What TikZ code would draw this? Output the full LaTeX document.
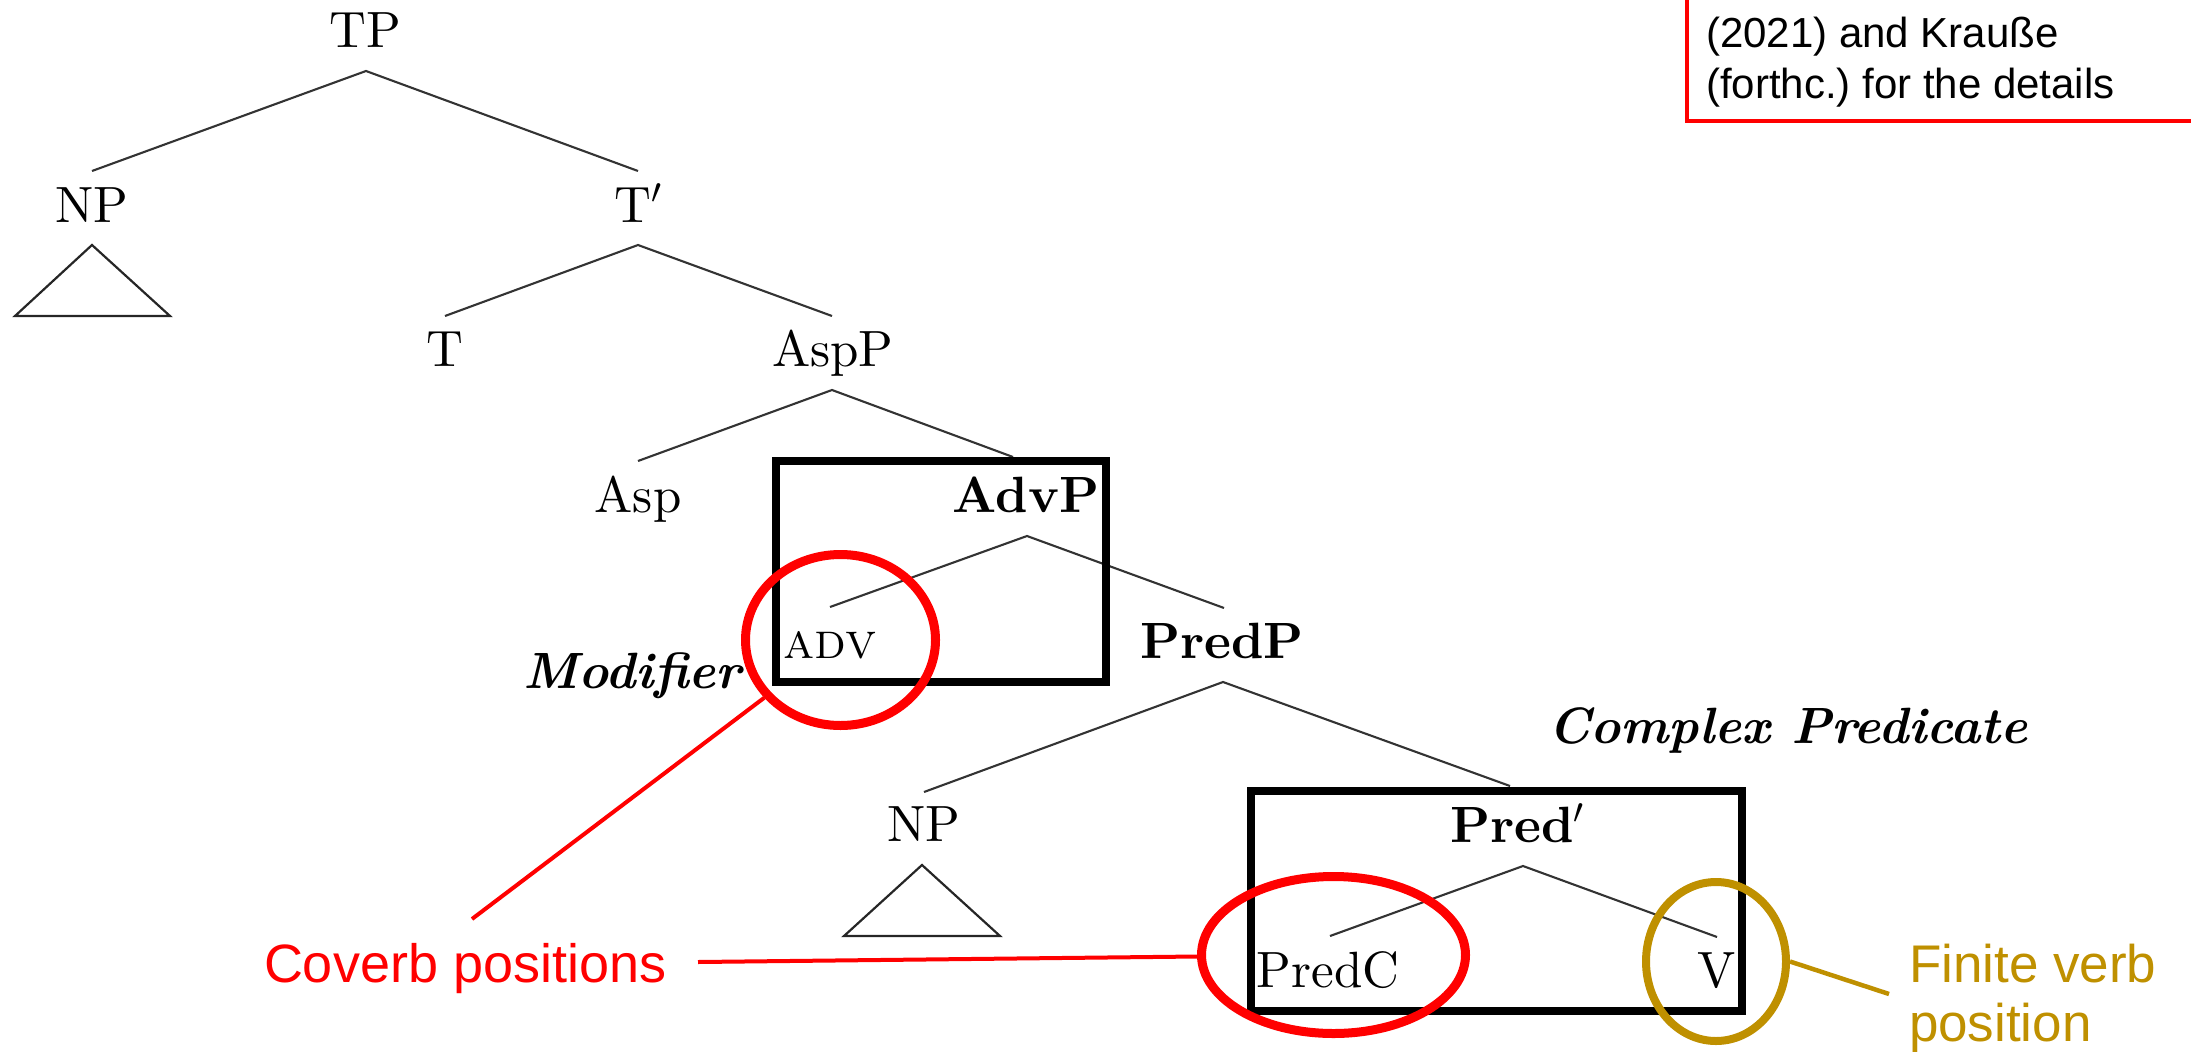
\RequirePackage{fix-cm}
\documentclass[tikz,border=0pt]{standalone}
\usepackage{fontspec}
\setmainfont{lmroman10}[Extension=.otf, UprightFont=*-regular, BoldFont=*-bold, ItalicFont=*-italic, BoldItalicFont=*-bolditalic, SmallCapsFont=lmromancaps10-regular]
\newfontfamily\arial{Liberation Sans}
\usetikzlibrary{shapes.geometric}
\definecolor{gold}{HTML}{BF9000}
\definecolor{annred}{HTML}{FF0000}
\frenchspacing
\begin{document}
\begin{tikzpicture}[x=1pt,y=-1pt,
  lbl/.style={inner sep=0pt, outer sep=0pt, anchor=base, font=\fontsize{51}{60}\selectfont},
  branch/.style={line width=2.1pt, draw=black!80},
  tri/.style={line width=2.2pt, draw=black!85, line join=miter},
  frame/.style={draw=black, line width=8.5pt, rectangle, inner sep=0pt},
  ring/.style={ellipse, draw=annred, line width=9pt, inner sep=0pt},
  goldring/.style={ellipse, draw=gold, line width=8pt, inner sep=0pt},
  redline/.style={draw=annred, line width=4pt},
  goldline/.style={draw=gold, line width=4.5pt},
  note/.style={inner sep=0pt, outer sep=0pt, anchor=base west, align=left}]
\useasboundingbox (0,0) rectangle (2191,1054);

% ---- labels of the tree
\node[lbl] (TP) at (365,48) {TP};
\node[lbl] (NPa) at (92,222) {NP};
\node[lbl] (Tbar) at (638,222) {T$'$};
\node[lbl] (T) at (445,366) {T};
\node[lbl] (AspP) at (833,366) {AspP};
\node[lbl] (Asp) at (638,512) {Asp};
\node[lbl] (AdvP) at (1026,512) {\textbf{AdvP}};
\node[lbl] (ADV) at (830,658) {\textsc{adv}};
\node[lbl] (PredP) at (1222,658) {\textbf{PredP}};
\node[lbl] (Mod) at (634,688) {\textbf{\textit{Modifier}}};
\node[lbl] (NPb) at (924,841) {NP};
\node[lbl] (Predbar) at (1517,842) {\textbf{Pred$'$}};
\node[lbl] (PredC) at (1328,987) {PredC};
\node[lbl] (V) at (1717,987) {V};
\node[lbl] (CP) at (1788,743) {\textbf{\textit{Complex Predicate}}};

% ---- branch points
\coordinate (TPb) at (366,71);
\coordinate (NPat) at (92,171);
\coordinate (Tbart) at (638,171);
\coordinate (Tbarb) at (638,245);
\coordinate (Tt) at (445,316);
\coordinate (AspPt) at (832,316);
\coordinate (AspPb) at (832,390);
\coordinate (Aspt) at (638,461);
\coordinate (AdvPt) at (1013,457);
\coordinate (AdvPb) at (1027,536);
\coordinate (ADVt) at (830,607);
\coordinate (PredPt) at (1224,608);
\coordinate (PredPb) at (1223,682);
\coordinate (NPbt) at (924,792);
\coordinate (Predbart) at (1510,786);
\coordinate (Predbarb) at (1523,866);
\coordinate (PredCt) at (1330,936);
\coordinate (Vt) at (1717,937);

\draw[branch] (NPat) -- (TPb) -- (Tbart);
\draw[branch] (Tt) -- (Tbarb) -- (AspPt);
\draw[branch] (Aspt) -- (AspPb) -- (AdvPt);
\draw[branch] (ADVt) -- (AdvPb) -- (PredPt);
\draw[branch] (NPbt) -- (PredPb) -- (Predbart);
\draw[branch] (PredCt) -- (Predbarb) -- (Vt);

% ---- triangles
\coordinate (triAtop) at (92,245);
\coordinate (triAl) at (15,316);
\coordinate (triAr) at (170,316);
\coordinate (triBtop) at (922,865);
\coordinate (triBl) at (844,936);
\coordinate (triBr) at (1000,936);
\draw[tri] (triAtop) -- (triAl) -- (triAr) -- cycle;
\draw[tri] (triBtop) -- (triBl) -- (triBr) -- cycle;

% ---- boxes
\node[frame, minimum width=330pt, minimum height=221pt] (advbox) at (941,571.5) {};
\node[frame, minimum width=491pt, minimum height=220pt] (predbox) at (1496.5,901) {};

% ---- rings
\node[ring, minimum width=190pt, minimum height=171pt] (ringADV) at (840.5,640) {};
\node[ring, minimum width=264pt, minimum height=157pt] (ringPredC) at (1333.5,955) {};
\node[goldring, minimum width=140pt, minimum height=159pt] (ringV) at (1716,961.5) {};

% ---- annotations
\node[note, text=annred, font=\arial\fontsize{54}{60}\selectfont] (coverb) at (264,982) {Coverb positions};
\coordinate (cvA) at (472,919);
\coordinate (cvB) at (698,962);
\draw[redline] (cvA) -- (ringADV);
\draw[redline] (cvB) -- (ringPredC);

% multi-line node: base anchor = baseline of last line
\node[note, text=gold, font=\arial\fontsize{53}{59}\selectfont] (finite) at (1909,1041) {Finite verb\\position};
\coordinate (fvA) at (1889,994);
\draw[goldline] (ringV.east) -- (fvA);

% ---- reference box (top right)
\coordinate (refL) at (1687,0);
\coordinate (refR) at (2191,121);
\draw[draw=annred, line width=4pt] (refL) |- (refR);
\node[note, font=\arial\fontsize{42}{51}\selectfont] (refs) at (1706,99) {(2021) and Krauße\\(forthc.) for the details};
\end{tikzpicture}
\end{document}
